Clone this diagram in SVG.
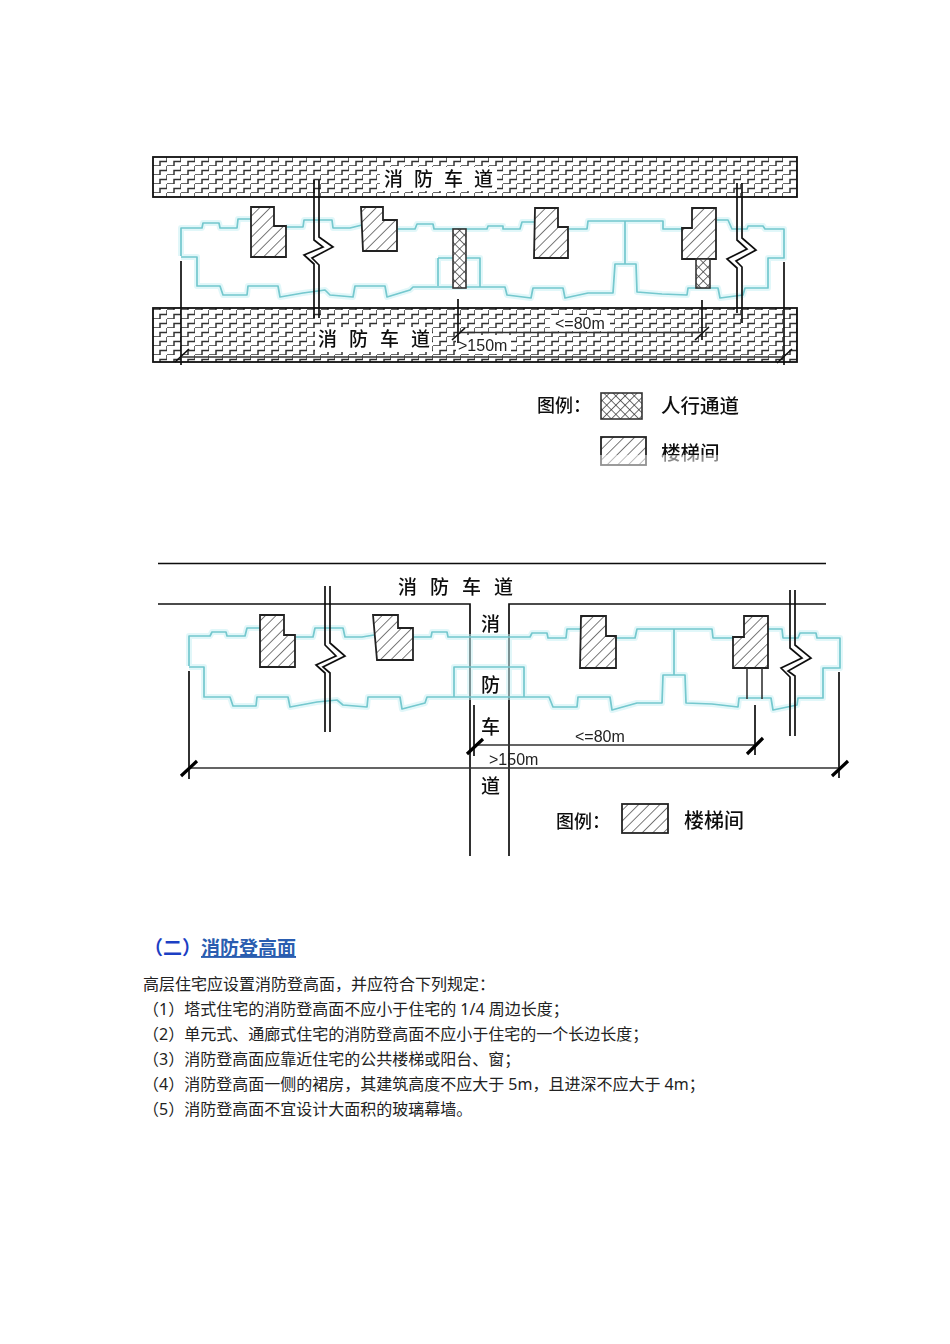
<svg xmlns="http://www.w3.org/2000/svg" width="950" height="1344" viewBox="0 0 950 1344">
<style>
.t{fill:none;stroke:#74c8ce;stroke-width:1.7;stroke-linejoin:round}
.g{fill:none;stroke:#c4f0f3;stroke-width:6;stroke-linejoin:round;opacity:.5}
.k{fill:none;stroke:#111;stroke-width:1.7}
.l{fill:none;stroke:#333;stroke-width:1.6}
.tk{fill:none;stroke:#000;stroke-width:3.2}
.tn{fill:none;stroke:#111;stroke-width:1.7}
.s{fill:url(#hatch);stroke:#222;stroke-width:1.8}
.x{fill:url(#cross);stroke:#333;stroke-width:1.6}
.r{fill:url(#brick);stroke:#111;stroke-width:1.8}
.w{fill:#fff;stroke:none}
.c{font-family:"Noto Sans CJK SC","Noto Sans",sans-serif;fill:#111;font-weight:500}
.d{font-family:"Liberation Sans",Arial,sans-serif;font-size:16px;fill:#222}
.p{font-family:"Noto Sans","Noto Sans CJK SC",sans-serif;font-size:16px;fill:#222}
</style>
<defs>
<pattern id="hatch" width="7.500" height="7.500" patternUnits="userSpaceOnUse" patternTransform="rotate(45)"><rect width="7.500" height="7.500" fill="#fff"/><line x1="0" y1="0" x2="0" y2="7.500" stroke="#333" stroke-width="1.3"/></pattern>
<pattern id="cross" width="6.500" height="6.500" patternUnits="userSpaceOnUse" patternTransform="rotate(45)"><rect width="6.500" height="6.500" fill="#fff"/><path d="M0 0V6.500M0 0H6.500" stroke="#333" stroke-width="1.4" fill="none"/></pattern>
<pattern id="brick" width="14" height="9" patternUnits="userSpaceOnUse" x="153" y="157"><rect width="14" height="9" fill="#fff"/><path d="M0 9H7V4.500H14V0" fill="none" stroke="#333" stroke-width="1.5"/></pattern>
<filter id="soft" x="-2%" y="-2%" width="104%" height="104%"><feGaussianBlur stdDeviation="0.4"/></filter>
</defs>
<rect width="950" height="1344" fill="#fff"/>

<g id="diagram-1" filter="url(#soft)">
<g id="road-top-1"><rect class="r" x="153" y="157" width="644" height="40"/><rect class="w" x="380" y="167" width="117" height="24"/>
<text class="c" x="384" y="186" font-size="19" letter-spacing="11">消防车道</text></g>
<g id="road-bottom-1"><rect class="r" x="153" y="308" width="644" height="54"/><rect class="w" x="315" y="327" width="117" height="25"/>
<text class="c" x="318" y="346" font-size="19" letter-spacing="12">消防车道</text>
<rect class="w" x="550" y="315" width="60" height="16"/><rect class="w" x="456" y="335" width="55" height="19"/></g>
<g id="building-1">
<path class="g" d="M181 256V228H202L203 223H219L220 228H237L238 219H251M286 227H303L304 220H332L333 228H350L362 225M398 229H415L417 224H433L434 229H487L488 226H503V229H520L522 222H535M569 229H587L588 221H663V229H682M717 220H728L732 229H747L748 226H763L765 229H784V258H768V288H745L743 295L720 298L718 288H688L687 295L662 294L637 292L636 264H615L613 293H588L565 298L563 288H533L531 298L507 295L505 287H438H413L410 290L387 297L385 286H355L353 297L330 295L325 290L303 293L280 297L278 286H248L247 295H223L220 286H197V257H181M438 258V286M438 258H480V287M625 221V264"/>
<path class="t" d="M181 256V228H202L203 223H219L220 228H237L238 219H251M286 227H303L304 220H332L333 228H350L362 225M398 229H415L417 224H433L434 229H487L488 226H503V229H520L522 222H535M569 229H587L588 221H663V229H682M717 220H728L732 229H747L748 226H763L765 229H784V258H768V288H745L743 295L720 298L718 288H688L687 295L662 294L637 292L636 264H615L613 293H588L565 298L563 288H533L531 298L507 295L505 287H438H413L410 290L387 297L385 286H355L353 297L330 295L325 290L303 293L280 297L278 286H248L247 295H223L220 286H197V257H181M438 258V286M438 258H480V287M625 221V264"/>
</g>
<g id="stair-1a"><path class="s" d="M251 207H274V226H286V257H251Z"/></g>
<g id="stair-1b"><path class="s" d="M361 207H383V220H397V251H363Z"/></g>
<g id="stair-1c"><path class="s" d="M535 208H558V227H568V258H534Z"/></g>
<g id="stair-1d"><path class="s" d="M692 208H716V259H682V228H692Z"/></g>
<g id="passage-1a"><rect class="x" x="453" y="229" width="13" height="59"/></g>
<g id="passage-1b"><rect class="x" x="696" y="259" width="14" height="29"/></g>
<g id="connectors-1">
<path class="k" d="M319 180V237L333 247L312 258L319 265V318M314 180V240L323 247L304 255L314 264V318"/>
<path class="k" d="M742 183V238L756 250L736 261L742 267V323M737 183V240L747 249L727 259L737 268V313"/>
<path class="tn" d="M181 261V365M458 299V343M702 300V340M784 262V365"/>
<path class="l" d="M458 332.500H703M181 357H785"/>
<path class="tn" stroke-width="2.400" d="M175 362L189 349M452 340L465 328M695 340L709 327M777 363L792 349"/>
</g>
<text class="d" x="555" y="329">&lt;=80m</text>
<text class="d" x="458" y="351">&gt;150m</text>
<g id="legend-1">
<text class="c" x="537" y="412" font-size="18" font-weight="700">图例：</text>
<rect class="x" x="601" y="393" width="41" height="26"/>
<text class="c" x="661" y="413" font-size="19.500">人行通道</text>
<rect class="s" x="601" y="437" width="45" height="28"/>
<text class="c" x="661" y="460" font-size="19.500">楼梯间</text>
<rect x="596" y="455" width="130" height="13" fill="#fff" opacity=".5"/>
</g>
</g>

<g id="diagram-2" filter="url(#soft)">
<g id="road-2"><path class="k" d="M158 563.500H826M158 604H470V856M826 604H509V856"/>
<text class="c" x="398" y="594" font-size="19" letter-spacing="13">消防车道</text>
<text class="c" x="481" y="631" font-size="19">消</text><text class="c" x="481" y="692" font-size="19">防</text><text class="c" x="481" y="734" font-size="19">车</text><text class="c" x="481" y="793" font-size="19">道</text></g>
<g id="building-2">
<path class="g" d="M189 666V636H210L212 632H226L227 636H245L247 628H260M296 637H313L315 628H343L345 637H362L374 635M413 637H431L432 632H447L448 637H530L532 633H547L548 638H566L567 629H580M616 638H635L637 629H712L713 638H733M768 629H782L783 638H798L800 633H816L817 638H840V668H823V698H798L797 705L773 710L771 698H739L738 707L712 704L686 703L685 675H663L662 703H637L612 710L610 697H578L577 707L553 707L549 697H524V667H454V697H427L425 703L402 709L400 697H368L367 707L343 705L337 700L317 702L290 707L288 697H257L256 706H233L230 697H204V667H189M454 697H524M674 629V675M470 637V697M509 637V697"/>
<path class="t" d="M189 666V636H210L212 632H226L227 636H245L247 628H260M296 637H313L315 628H343L345 637H362L374 635M413 637H431L432 632H447L448 637H530L532 633H547L548 638H566L567 629H580M616 638H635L637 629H712L713 638H733M768 629H782L783 638H798L800 633H816L817 638H840V668H823V698H798L797 705L773 710L771 698H739L738 707L712 704L686 703L685 675H663L662 703H637L612 710L610 697H578L577 707L553 707L549 697H524V667H454V697H427L425 703L402 709L400 697H368L367 707L343 705L337 700L317 702L290 707L288 697H257L256 706H233L230 697H204V667H189M454 697H524M674 629V675"/>
</g>
<g id="stair-2a"><path class="s" d="M260 615H284V635H295V667H260Z"/></g>
<g id="stair-2b"><path class="s" d="M373 615H398V628H413V660H377Z"/></g>
<g id="stair-2c"><path class="s" d="M581 616H606V636H616V668H580Z"/></g>
<g id="stair-2d"><path class="s" d="M744 616H768V668H733V637H744Z"/></g>
<g id="connectors-2">
<path class="l" d="M747 668V699M762 668V699"/>
<path class="k" d="M330 586V643L345 656L323 667L330 673V732M325 586V645L336 656L316 665L325 673V732"/>
<path class="k" d="M795 590V645L811 658L788 671L795 676V736M790 590V648L802 658L781 668L790 677V736"/>
<path class="tn" d="M189 671V779M839 672V778M474 705V756M755 705V755"/>
<path class="l" d="M189 768H840M474 745H755"/>
<path class="tk" d="M181 776L197 761M832 776L848 761M467 754L483 739M747 754L763 738"/>
</g>
<text class="d" x="575" y="742">&lt;=80m</text>
<text class="d" x="489" y="765">&gt;150m</text>
<g id="legend-2">
<text class="c" x="556" y="828" font-size="18" font-weight="700">图例：</text>
<rect class="s" x="622" y="804" width="46" height="29"/>
<text class="c" x="684" y="828" font-size="20">楼梯间</text>
</g>
</g>

<g id="text-block">
<text x="144" y="955" font-family="Noto Sans CJK SC,Noto Sans,sans-serif" font-size="19px" font-weight="700" fill="#1c3fc4">（二）<tspan fill="#2a5db0" text-decoration="underline">消防登高面</tspan></text>
<text class="p" x="143" y="990">高层住宅应设置消防登高面，并应符合下列规定：</text>
<text class="p" x="143" y="1015">（1）塔式住宅的消防登高面不应小于住宅的 1/4 周边长度；</text>
<text class="p" x="143" y="1040">（2）单元式、通廊式住宅的消防登高面不应小于住宅的一个长边长度；</text>
<text class="p" x="143" y="1065">（3）消防登高面应靠近住宅的公共楼梯或阳台、窗；</text>
<text class="p" x="143" y="1090">（4）消防登高面一侧的裙房，其建筑高度不应大于 5m，且进深不应大于 4m；</text>
<text class="p" x="143" y="1115">（5）消防登高面不宜设计大面积的玻璃幕墙。</text>
</g>
</svg>
